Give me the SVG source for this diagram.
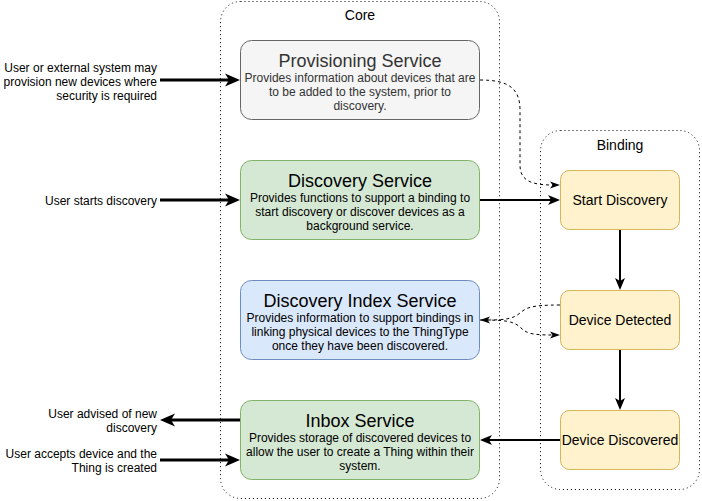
<svg xmlns="http://www.w3.org/2000/svg" width="702" height="501" viewBox="0 0 702 501">
<style>
text{font-family:"Liberation Sans",Arial,Helvetica,sans-serif;fill:#000}
.c{text-anchor:middle}
.r{text-anchor:end}
.t{font-size:18px}
.b{font-size:12px}
.m{font-size:14px}
.grp{fill:none;stroke:#000;stroke-width:1;stroke-dasharray:1 3}
.grp2{fill:none;stroke:#555;stroke-width:1;stroke-dasharray:1 3}
.thick{fill:none;stroke:#000;stroke-width:3}
.med{fill:none;stroke:#000;stroke-width:2}
.dash{fill:none;stroke:#000;stroke-width:1;stroke-dasharray:3 3}
</style>
<defs>
<marker id="aT" markerUnits="userSpaceOnUse" viewBox="0 0 15 14" markerWidth="15" markerHeight="14" refX="5" refY="7" orient="auto"><path d="M0,0.5 L15,7 L0,13.5 L4,7 z" fill="#000"/></marker>
<marker id="aM" markerUnits="userSpaceOnUse" viewBox="0 0 12 11" markerWidth="12" markerHeight="11" refX="4" refY="5.5" orient="auto"><path d="M0,0.5 L12,5.5 L0,10.5 L3,5.5 z" fill="#000"/></marker>
<marker id="aS" markerUnits="userSpaceOnUse" viewBox="0 0 10 8" markerWidth="10" markerHeight="8" refX="3" refY="4" orient="auto"><path d="M0,0.5 L10,4 L0,7.5 L2.5,4 z" fill="#000"/></marker>
</defs>

<g id="core">
<rect x="220.5" y="1.5" width="279" height="497" rx="20" class="grp"/>
<text x="360" y="20" class="c m">Core</text>
</g>
<g id="binding">
<rect x="540.5" y="130.5" width="159" height="359" rx="20" class="grp"/>
<text x="620" y="150" class="c m">Binding</text>
</g>

<g id="provisioning">
<rect x="240.5" y="40.5" width="239" height="79" rx="11" fill="#f5f5f5" stroke="#666"/>
<text x="360" y="67" class="c t" style="fill:#333">Provisioning Service</text>
<text x="360" y="82" class="c b" style="fill:#333">Provides information about devices that are</text>
<text x="360" y="96" class="c b" style="fill:#333">to be added to the system, prior to</text>
<text x="360" y="110" class="c b" style="fill:#333">discovery.</text>
</g>
<g id="discovery">
<rect x="240.5" y="160.5" width="239" height="79" rx="11" fill="#d5e8d4" stroke="#82b366"/>
<text x="360" y="187" class="c t">Discovery Service</text>
<text x="360" y="202" class="c b">Provides functions to support a binding to</text>
<text x="360" y="216" class="c b">start discovery or discover devices as a</text>
<text x="360" y="230" class="c b">background service.</text>
</g>
<g id="discoveryIndex">
<rect x="240.5" y="280.5" width="239" height="79" rx="11" fill="#dae8fc" stroke="#6c8ebf"/>
<text x="360" y="307" class="c t">Discovery Index Service</text>
<text x="360" y="322" class="c b">Provides information to support bindings in</text>
<text x="360" y="336" class="c b">linking physical devices to the ThingType</text>
<text x="360" y="350" class="c b">once they have been discovered.</text>
</g>
<g id="inbox">
<rect x="240.5" y="400.5" width="239" height="79" rx="11" fill="#d5e8d4" stroke="#82b366"/>
<text x="360" y="427" class="c t">Inbox Service</text>
<text x="360" y="442" class="c b">Provides storage of discovered devices to</text>
<text x="360" y="456" class="c b">allow the user to create a Thing within their</text>
<text x="360" y="470" class="c b">system.</text>
</g>

<g id="startDiscovery">
<rect x="560.5" y="170.5" width="119" height="59" rx="9" fill="#fff2cc" stroke="#d6b656"/>
<text x="620" y="205" class="c m">Start Discovery</text>
</g>
<g id="deviceDetected">
<rect x="560.5" y="290.5" width="119" height="59" rx="9" fill="#fff2cc" stroke="#d6b656"/>
<text x="620" y="325" class="c m">Device Detected</text>
</g>
<g id="deviceDiscovered">
<rect x="560.5" y="410.5" width="119" height="59" rx="9" fill="#fff2cc" stroke="#d6b656"/>
<text x="620" y="445" class="c m">Device Discovered</text>
</g>

<g id="labels">
<text x="157" y="72" class="r b">User or external system may</text>
<text x="157" y="86" class="r b">provision new devices where</text>
<text x="157" y="100" class="r b">security is required</text>
<text x="157" y="205" class="r b">User starts discovery</text>
<text x="157" y="418" class="r b">User advised of new</text>
<text x="157" y="432" class="r b">discovery</text>
<text x="157" y="458" class="r b">User accepts device and the</text>
<text x="157" y="472" class="r b">Thing is created</text>
</g>

<g id="connectors">
<path d="M160,80 L230,80" class="thick" marker-end="url(#aT)"/>
<path d="M160,200 L230,200" class="thick" marker-end="url(#aT)"/>
<path d="M240,420 L170,420" class="thick" marker-end="url(#aT)"/>
<path d="M160,460 L230,460" class="thick" marker-end="url(#aT)"/>
<path d="M480,200 L552,200" class="med" marker-end="url(#aM)"/>
<path d="M620,230 L620,282" class="med" marker-end="url(#aM)"/>
<path d="M620,350 L620,402" class="med" marker-end="url(#aM)"/>
<path d="M560,440 L488,440" class="med" marker-end="url(#aM)"/>
<path d="M480,80 C508,80 520,88 520,110 L520,165 C520,180 530,185 553,185" class="dash" marker-end="url(#aS)"/>
<path d="M560,305 C530,305 526,308 520,313 C513,319 505,320 487,320" class="dash" marker-end="url(#aS)"/>
<path d="M480,320 C505,320 513,321 520,327 C526,333 530,335 553,335" class="dash" marker-end="url(#aS)"/>
</g>
</svg>
